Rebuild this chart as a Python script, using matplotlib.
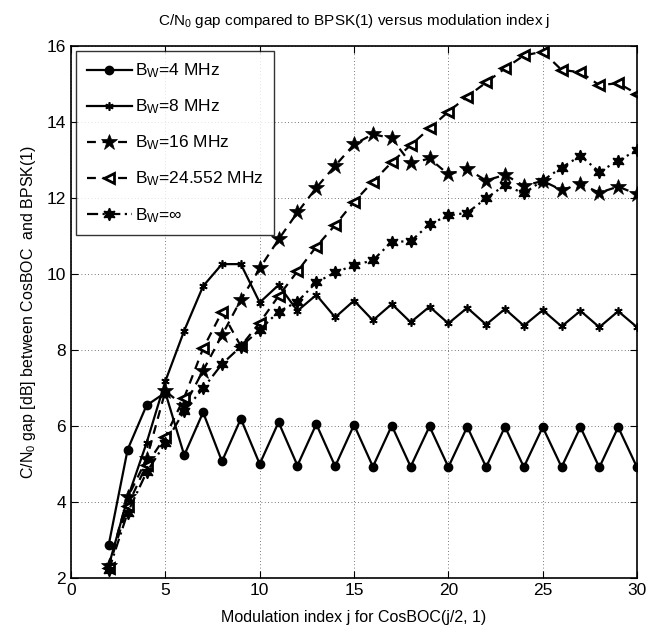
import numpy as np
import matplotlib
matplotlib.use('Agg')
import matplotlib.pyplot as plt

plt.rcParams['font.family'] = ['Liberation Sans', 'DejaVu Sans']
plt.rcParams['mathtext.default'] = 'regular'

# modulation index j
j = np.arange(2, 31)

bw4 = [2.88, 5.38, 6.54, 6.88, 5.23, 6.36, 5.07, 6.19, 5.00, 6.10, 4.96, 6.05, 4.94, 6.03, 4.93,
       6.01, 4.93, 5.99, 4.92, 5.98, 4.92, 5.98, 4.92, 5.97, 4.92, 5.97, 4.91, 5.97, 4.91]
bw8 = [2.33, 4.10, 5.55, 7.18, 8.51, 9.68, 10.26, 10.26, 9.25, 9.71, 9.03, 9.45, 8.86, 9.30, 8.78,
       9.21, 8.73, 9.14, 8.70, 9.11, 8.67, 9.08, 8.64, 9.05, 8.62, 9.03, 8.60, 9.02, 8.60]
bw16 = [2.32, 4.12, 5.12, 6.92, 6.52, 7.46, 8.39, 9.32, 10.15, 10.91, 11.62, 12.27, 12.85, 13.41, 13.68,
        13.57, 12.91, 13.04, 12.62, 12.76, 12.46, 12.61, 12.32, 12.45, 12.21, 12.37, 12.14, 12.30, 12.10]
bw24 = [2.27, 3.90, 4.98, 5.72, 6.75, 8.04, 9.00, 8.10, 8.72, 9.42, 10.07, 10.72, 11.29, 11.90, 12.43,
        12.94, 13.39, 13.83, 14.27, 14.67, 15.04, 15.41, 15.75, 15.85, 15.37, 15.31, 14.97, 15.02, 14.74]
bwinf = [2.20, 3.72, 4.78, 5.55, 6.40, 6.99, 7.63, 8.09, 8.53, 9.01, 9.27, 9.78, 10.04, 10.23, 10.36,
         10.85, 10.86, 11.31, 11.54, 11.61, 11.99, 12.34, 12.12, 12.46, 12.80, 13.11, 12.69, 12.98, 13.26]

labels = [r'B$_W$=4 MHz', r'B$_W$=8 MHz', r'B$_W$=16 MHz', r'B$_W$=24.552 MHz', r'B$_W$=∞']

fig = plt.figure(figsize=(6.72, 6.37), dpi=100)
ax = fig.add_axes([0.1057, 0.0926, 0.8423, 0.8352])

lw = 1.6
ax.plot(j, bw4, '-', color='k', lw=lw, marker='o', ms=6, mfc='k', label=labels[0])
ax.plot(j, bw8, '-', color='k', lw=lw, marker=(6, 2, 0), ms=6, mew=1.2, label=labels[1])
ax.plot(j, bw16, '--', color='k', lw=lw, dashes=(4, 3), marker='*', ms=12, mfc='k', mew=0.5,
        label=labels[2])
ax.plot(j, bw24, '--', color='k', lw=lw, dashes=(4, 3), marker='<', ms=6.5, mfc='white', mew=2,
        label=labels[3])
ax.plot(j, bwinf, '-.', color='k', lw=lw, dashes=(5, 2, 1, 2), marker=(6, 1, 0), ms=9, mfc='k',
        mew=1.0, label=labels[4])

ax.set_xlim(0, 30)
ax.set_ylim(2, 16)
ax.set_xticks(range(0, 31, 5))
ax.set_yticks(range(2, 17, 2))
ax.tick_params(direction='in', top=True, right=True, labelsize=12.5, length=5, width=0.8)
ax.grid(True, linestyle=(0, (1, 3)), color='k', lw=0.6, alpha=0.7)
for s in ax.spines.values():
    s.set_linewidth(1.2)

ax.set_title(r'C/N$_0$ gap compared to BPSK(1) versus modulation index j', fontsize=11, pad=15)
ax.set_xlabel('Modulation index j for CosBOC(j/2, 1)', fontsize=11.5, labelpad=9)
ax.set_ylabel(r'C/N$_0$ gap [dB] between CosBOC  and BPSK(1)', fontsize=11.5, labelpad=6)

leg = ax.legend(loc='upper left', fontsize=12.5, frameon=True, fancybox=False, edgecolor='k',
                borderaxespad=0.3, labelspacing=1.0, handlelength=2.6, handletextpad=0.2,
                borderpad=0.6)
leg.get_frame().set_linewidth(1.0)

fig.savefig('out.png', dpi=100)
